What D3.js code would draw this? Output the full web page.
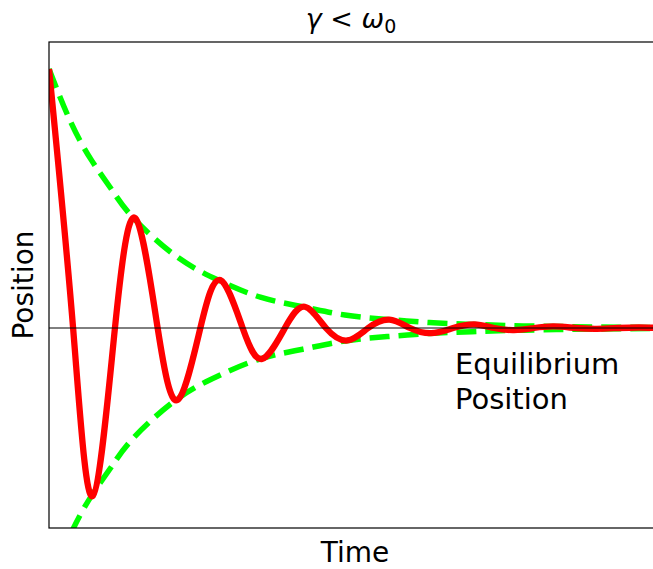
<!DOCTYPE html>
<html>
<head>
<meta charset="utf-8">
<script src="https://cdn.jsdelivr.net/npm/d3@7"></script>
<style>
  body { margin: 0; background: #fff; }
  text { font-family: "DejaVu Sans", sans-serif; }
</style>
</head>
<body>
<div id="chart"></div>
<script>
// Damped oscillator (time in arbitrary units)
var posTime = [0, 0.57, 1.03, 1.56, 2.04, 2.57, 3.04, 3.58, 4.05, 4.58, 5.04, 5.58, 6.05, 6.55,
               7.06, 7.55, 8.05, 8.54, 9.04, 9.56, 10.06, 10.53, 11.0, 11.47, 11.94, 12.46,
               12.96, 13.46, 13.96, 14.5];
var posValue = [1.0, 0, -0.649, 0, 0.424, 0, -0.278, 0, 0.185, 0, -0.119, 0, 0.082, 0,
                -0.048, 0, 0.032, 0, -0.02, 0, 0.014, 0, -0.008, 0, 0.006, 0,
                -0.003, 0, 0.002, 0];

// Decay envelope (upper half, lower is mirrored)
var envTime = [0, 0.5, 1, 1.5, 2, 3, 4, 5, 6, 7, 8, 9, 10, 11, 12, 13, 14.5];
var envValue = [1.0, 0.80, 0.649, 0.53, 0.424, 0.278, 0.185, 0.119, 0.082, 0.05, 0.033,
                0.021, 0.014, 0.009, 0.006, 0.004, 0.002];

var W = 653, H = 569;
var margin = {left: 49, top: 42, right: 662, bottom: 528};

var svg = d3.select("#chart").append("svg")
    .attr("width", W)
    .attr("height", H);

var x = d3.scaleLinear().domain([0, 14.5]).range([margin.left, margin.right]);
var y = d3.scaleLinear().domain([-0.772, 1.104]).range([margin.bottom, margin.top]);

svg.append("clipPath").attr("id", "clip")
  .append("rect")
    .attr("x", margin.left).attr("y", margin.top)
    .attr("width", margin.right - margin.left)
    .attr("height", margin.bottom - margin.top);

var plot = svg.append("g").attr("clip-path", "url(#clip)");

var upper = envTime.map(function(t, i) { return [t, envValue[i]]; });
var lower = envTime.map(function(t, i) { return [t, -envValue[i]]; });
var pos = posTime.map(function(t, i) { return [t, posValue[i]]; });

var line = d3.line()
    .x(function(d) { return x(d[0]); })
    .y(function(d) { return y(d[1]); })
    .curve(d3.curveNatural);

// envelopes
[upper, lower].forEach(function(env) {
  plot.append("path")
      .datum(env)
      .attr("fill", "none")
      .attr("stroke", "#00ff00")
      .attr("stroke-width", 5.5)
      .attr("stroke-dasharray", "20,9")
      .attr("d", line);
});

// position curve
plot.append("path")
    .datum(pos)
    .attr("fill", "none")
    .attr("stroke", "#ff0000")
    .attr("stroke-width", 6.3)
    .attr("stroke-linejoin", "round")
    .attr("d", line);

// equilibrium line
plot.append("line")
    .attr("x1", x(0)).attr("x2", x(14.5))
    .attr("y1", y(0)).attr("y2", y(0))
    .attr("stroke", "#000")
    .attr("stroke-width", 1);

// frame
svg.append("rect")
    .attr("x", margin.left).attr("y", margin.top)
    .attr("width", margin.right - margin.left)
    .attr("height", margin.bottom - margin.top)
    .attr("fill", "none")
    .attr("stroke", "#000")
    .attr("stroke-width", 1.2);

// title: gamma < omega_0
var title = svg.append("text")
    .attr("x", 351)
    .attr("y", 28)
    .attr("text-anchor", "middle")
    .attr("font-size", 27);
title.append("tspan").attr("font-style", "italic").text("γ");
title.append("tspan").text(" < ");
title.append("tspan").attr("font-style", "italic").text("ω");
title.append("tspan").attr("font-size", 19).attr("dy", 5).text("0");

svg.append("text")
    .attr("x", 355)
    .attr("y", 562)
    .attr("text-anchor", "middle")
    .attr("font-size", 28)
    .text("Time");

svg.append("text")
    .attr("transform", "translate(33," + ((margin.top + margin.bottom) / 2) + ") rotate(-90)")
    .attr("text-anchor", "middle")
    .attr("font-size", 28)
    .text("Position");

svg.append("text")
    .attr("x", 455).attr("y", 374)
    .attr("font-size", 29)
    .text("Equilibrium");
svg.append("text")
    .attr("x", 455).attr("y", 409)
    .attr("font-size", 29)
    .text("Position");
</script>
</body>
</html>
